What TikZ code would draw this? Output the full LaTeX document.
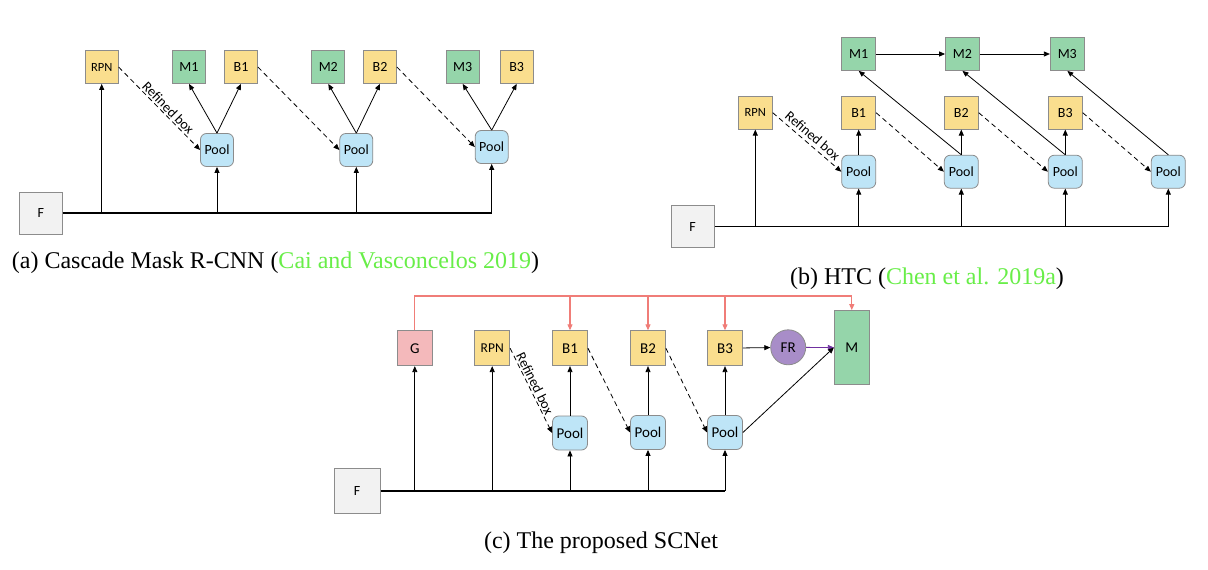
\documentclass[tikz,border=0pt]{standalone}
\usepackage{fontspec}
\setmainfont{Liberation Serif}
\newfontfamily\boxfont{Carlito}
\usepackage{xcolor}
\usetikzlibrary{arrows.meta,positioning,calc}
\definecolor{boxyellow}{RGB}{250,222,142}
\definecolor{boxgreen}{RGB}{149,213,170}
\definecolor{poolblue}{RGB}{190,229,247}
\definecolor{fgray}{RGB}{242,242,242}
\definecolor{gpink}{RGB}{244,185,187}
\definecolor{frpurple}{RGB}{168,141,200}
\definecolor{edgegray}{RGB}{140,140,140}
\definecolor{guidered}{RGB}{240,125,120}
\definecolor{featpurple}{RGB}{112,48,160}
\definecolor{citegreen}{RGB}{104,238,72}

\begin{document}
\begin{tikzpicture}[x=1pt, y=-1pt,
  base/.style={draw=edgegray, line width=0.8pt, inner sep=0pt,
               minimum width=33pt, minimum height=33pt,
               font=\boxfont\fontsize{14}{14}\selectfont},
  ybox/.style={base, fill=boxyellow},
  gbox/.style={base, fill=boxgreen},
  pool/.style={base, rounded corners=6pt, fill=poolblue},
  fbox/.style={base, fill=fgray, minimum width=43pt, minimum height=42pt},
  small/.style={font=\boxfont\fontsize{12.5}{12.5}\selectfont},
  big/.style={minimum width=35pt, minimum height=35pt,
              font=\boxfont\fontsize{15}{15}\selectfont},
  arrow/.style={-{Triangle[length=6pt,width=5pt]}, line width=0.8pt},
  dasharrow/.style={arrow, dash pattern=on 5pt off 3.5pt},
  bus/.style={line width=1.4pt},
  redarrow/.style={arrow, guidered, line width=1.1pt},
  reflabel/.style={sloped, above, inner sep=1.5pt,
                   font=\boxfont\fontsize{14}{14}\selectfont},
  caption/.style={font=\fontsize{24}{24}\selectfont}
]
\useasboundingbox[fill=white] (0,0) rectangle (1208,570);

% (a) Cascade Mask R-CNN
\node[ybox, small] (rpnA) at (101.7,67) {RPN};
\node[gbox] (mA1) at (189,67) {M1};
\node[ybox] (bA1) at (241,67) {B1};
\node[gbox] (mA2) at (328.3,67) {M2};
\node[ybox] (bA2) at (380,67) {B2};
\node[gbox] (mA3) at (462.7,67) {M3};
\node[ybox] (bA3) at (516.7,67) {B3};
\node[pool] (poolA1) at (217,150) {Pool};
\node[pool] (poolA2) at (356.3,150) {Pool};
\node[pool] (poolA3) at (491.7,147) {Pool};
\node[fbox] (fA) at (40.8,213) {F};
\draw[bus] (fA.east) -- (poolA3 |- fA);
\draw[arrow] (rpnA |- fA) -- (rpnA);
\draw[arrow] (poolA1 |- fA) -- (poolA1);
\draw[arrow] (poolA2 |- fA) -- (poolA2);
\draw[arrow] (poolA3 |- fA) -- (poolA3);
\draw[arrow] (poolA1.north) -- (mA1.south);
\draw[arrow] (poolA1.north) -- (bA1.south);
\draw[arrow] (poolA2.north) -- (mA2.south);
\draw[arrow] (poolA2.north) -- (bA2.south);
\draw[arrow] (poolA3.north) -- (mA3.south);
\draw[arrow] (poolA3.north) -- (bA3.south);
\draw[dasharrow] (rpnA.east) -- node[reflabel, pos=0.55]{Refined box} (poolA1.west);
\draw[dasharrow] (bA1.east) -- (poolA2.west);
\draw[dasharrow] (bA2.east) -- (poolA3.west);
\node[caption] (capA) at (275.5,263) {(a) Cascade Mask R-CNN (\textcolor{citegreen}{Cai and Vasconcelos 2019})};

% (b) HTC
\node[gbox, minimum width=34pt] (mB1) at (858.7,54) {M1};
\node[gbox, minimum width=34pt, right=69pt of mB1] (mB2) {M2};
\node[gbox, minimum width=34pt, right=70pt of mB2] (mB3) {M3};
\node[ybox, small, minimum width=34pt] (rpnB) at (755.3,112.7) {RPN};
\node[ybox, minimum width=34pt] (bB1) at (858.7,112.7) {B1};
\node[ybox, minimum width=34pt] (bB2) at (961.3,112.7) {B2};
\node[ybox, minimum width=34pt] (bB3) at (1065.3,112.7) {B3};
\node[pool, minimum width=34pt] (poolB1) at (858.7,171.7) {Pool};
\node[pool, minimum width=34pt] (poolB2) at (961.3,171.7) {Pool};
\node[pool, minimum width=34pt] (poolB3) at (1065.3,171.7) {Pool};
\node[pool, minimum width=34pt] (poolB4) at (1168.3,171.7) {Pool};
\node[fbox] (fB) at (692.7,226.7) {F};
\draw[arrow] (fB.east) -- (poolB4 |- fB) -- (poolB4);
\draw[arrow] (rpnB |- fB) -- (rpnB);
\draw[arrow] (poolB1 |- fB) -- (poolB1);
\draw[arrow] (poolB2 |- fB) -- (poolB2);
\draw[arrow] (poolB3 |- fB) -- (poolB3);
\draw[arrow] (poolB1) -- (bB1);
\draw[arrow] (poolB2) -- (bB2);
\draw[arrow] (poolB3) -- (bB3);
\draw[arrow] (mB1) -- (mB2);
\draw[arrow] (mB2) -- (mB3);
\draw[arrow] (poolB2.north) -- (mB1.south);
\draw[arrow] (poolB3.north) -- (mB2.south);
\draw[arrow] (poolB4.north) -- (mB3.south);
\draw[dasharrow] (rpnB.east) -- node[reflabel, pos=0.5, inner sep=3.5pt]{Refined box} (poolB1.west);
\draw[dasharrow] (bB1.east) -- (poolB2.west);
\draw[dasharrow] (bB2.east) -- (poolB3.west);
\draw[dasharrow] (bB3.east) -- (poolB4.west);
\node[caption] (capB) at (927,279) {(b) HTC (\textcolor{citegreen}{Chen et al. 2019a})};

% (c) SCNet
\node[base, big, fill=gpink] (gC) at (414.8,348.2) {G};
\node[ybox, big, font=\boxfont\fontsize{13.5}{13.5}\selectfont] (rpnC) at (492.2,348.2) {RPN};
\node[ybox, big] (bC1) at (570,348.2) {B1};
\node[ybox, big] (bC2) at (648,348.2) {B2};
\node[ybox, big] (bC3) at (725,348.2) {B3};
\node[base, big, circle, fill=frpurple] (frC) at (788.2,347.3) {FR};
\node[gbox, big, minimum height=74pt] (mC) at (851.8,347.5) {M};
\node[pool, big, minimum height=34pt] (poolC1) at (570,433) {Pool};
\node[pool, big, minimum height=34pt] (poolC2) at (648,432.5) {Pool};
\node[pool, big, minimum height=34pt] (poolC3) at (725,432.5) {Pool};
\node[fbox, minimum width=46pt, minimum height=45pt] (fC) at (357.2,490.8) {F};
\coordinate (redtop) at (0,296);
\draw[bus] (fC.east) -- (poolC3 |- fC);
\draw[arrow] (gC |- fC) -- (gC);
\draw[arrow] (rpnC |- fC) -- (rpnC);
\draw[arrow] (poolC1 |- fC) -- (poolC1);
\draw[arrow] (poolC2 |- fC) -- (poolC2);
\draw[arrow] (poolC3 |- fC) -- (poolC3);
\draw[arrow] (poolC1) -- (bC1);
\draw[arrow] (poolC2) -- (bC2);
\draw[arrow] (poolC3) -- (bC3);
\draw[arrow] (bC3) -- (frC);
\draw[arrow, featpurple] (frC) -- (mC.west);
\draw[arrow] (poolC3.east) -- (mC.west);
\draw[redarrow] (gC.north) -- (gC.north |- redtop) -| (mC.north);
\draw[redarrow] (bC1.north |- redtop) -- (bC1.north);
\draw[redarrow] (bC2.north |- redtop) -- (bC2.north);
\draw[redarrow] (bC3.north |- redtop) -- (bC3.north);
\draw[dasharrow] (rpnC.east) -- node[reflabel, pos=0.45]{Refined box} (poolC1.west);
\draw[dasharrow] (bC1.east) -- (poolC2.west);
\draw[dasharrow] (bC2.east) -- (poolC3.west);
\node[caption] (capC) at (601,543) {(c) The proposed SCNet};
\end{tikzpicture}
\end{document}
